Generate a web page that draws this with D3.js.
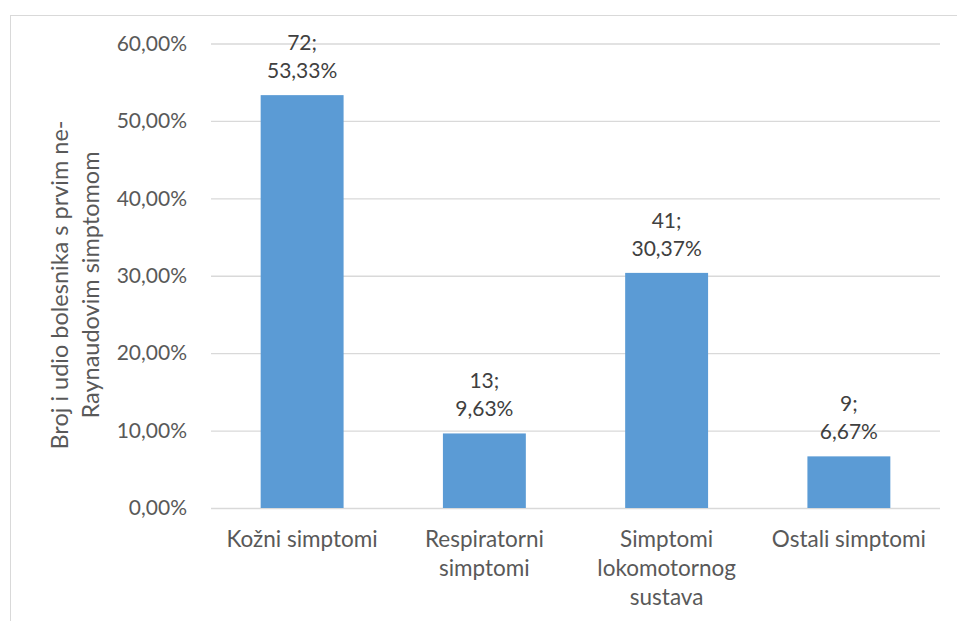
<!DOCTYPE html>
<html><head><meta charset="utf-8">
<script src="https://cdn.jsdelivr.net/npm/d3@7"></script>
<style>body{margin:0;background:#fff}svg{display:block}text{font-family:Lato,"Open Sans",sans-serif}</style>
</head><body><svg id="c" width="957" height="621"></svg>
<script>
const categories = [["Kožni simptomi"], ["Respiratorni","simptomi"], ["Simptomi","lokomotornog","sustava"], ["Ostali simptomi"]];
const counts = [72, 13, 41, 9];
const percents = [53.33, 9.63, 30.37, 6.67];
const yTicks = [0, 10, 20, 30, 40, 50, 60];
const yTitle = ["Broj i udio bolesnika s prvim ne-", "Raynaudovim simptomom"];

const svg = d3.select("#c");
const m = {l: 211, r: 940, t: 43.5, b: 508};
const fsNum = 21, fsCat = 22.5, fsTitle = 23.5;
svg.append("rect").attr("x", 10.5).attr("y", 15.5).attr("width", 960).attr("height", 620)
  .attr("fill", "none").attr("stroke", "#d9d9d9").attr("stroke-width", 1);

const x = d3.scaleBand().domain(d3.range(categories.length)).range([m.l, m.r]).paddingInner(0.545).paddingOuter(0.2725);
const y = d3.scaleLinear().domain([0, 60]).range([m.b, m.t]);

const fmt = v => v.toFixed(2).replace(".", ",") + "%";

const gy = svg.append("g").attr("transform", `translate(${m.l},0)`)
  .call(d3.axisLeft(y).tickValues(yTicks).tickSize(-(m.r - m.l)).tickPadding(24).tickFormat(fmt));
gy.select(".domain").remove();
gy.selectAll(".tick line").attr("stroke", "#d9d9d9").attr("stroke-width", 1.3);
gy.selectAll(".tick text").attr("fill", "#595959").style("font-size", fsNum + "px").style("font-family", "Lato");

svg.append("g").selectAll("rect").data(percents).join("rect")
  .attr("x", (d, i) => x(i)).attr("width", x.bandwidth())
  .attr("y", d => y(d)).attr("height", d => y(0) - y(d))
  .attr("fill", "#5b9bd5");

const lbl = svg.append("g").selectAll("text").data(percents).join("text")
  .attr("text-anchor", "middle").attr("fill", "#404040").style("font-size", fsNum + "px")
  .attr("x", (d, i) => x(i) + x.bandwidth() / 2);
lbl.append("tspan").attr("x", (d, i) => x(i) + x.bandwidth() / 2).attr("y", d => y(d) - 45).text((d, i) => counts[i] + ";");
lbl.append("tspan").attr("x", (d, i) => x(i) + x.bandwidth() / 2).attr("y", d => y(d) - 17).text(d => fmt(d));

const xl = svg.append("g").selectAll("text").data(categories).join("text")
  .attr("text-anchor", "middle").attr("fill", "#595959").style("font-size", fsCat + "px");
xl.each(function(d, i) {
  const t = d3.select(this);
  d.forEach((s, j) => t.append("tspan").attr("x", x(i) + x.bandwidth() / 2).attr("y", 547 + j * 29).text(s));
});

const yt = svg.append("text").attr("transform", "translate(0,285) rotate(-90)")
  .attr("text-anchor", "middle").attr("fill", "#595959").style("font-size", fsTitle + "px");
yTitle.forEach((s, j) => yt.append("tspan").attr("x", 0).attr("y", 68 + j * 31).text(s));
</script></body></html>
